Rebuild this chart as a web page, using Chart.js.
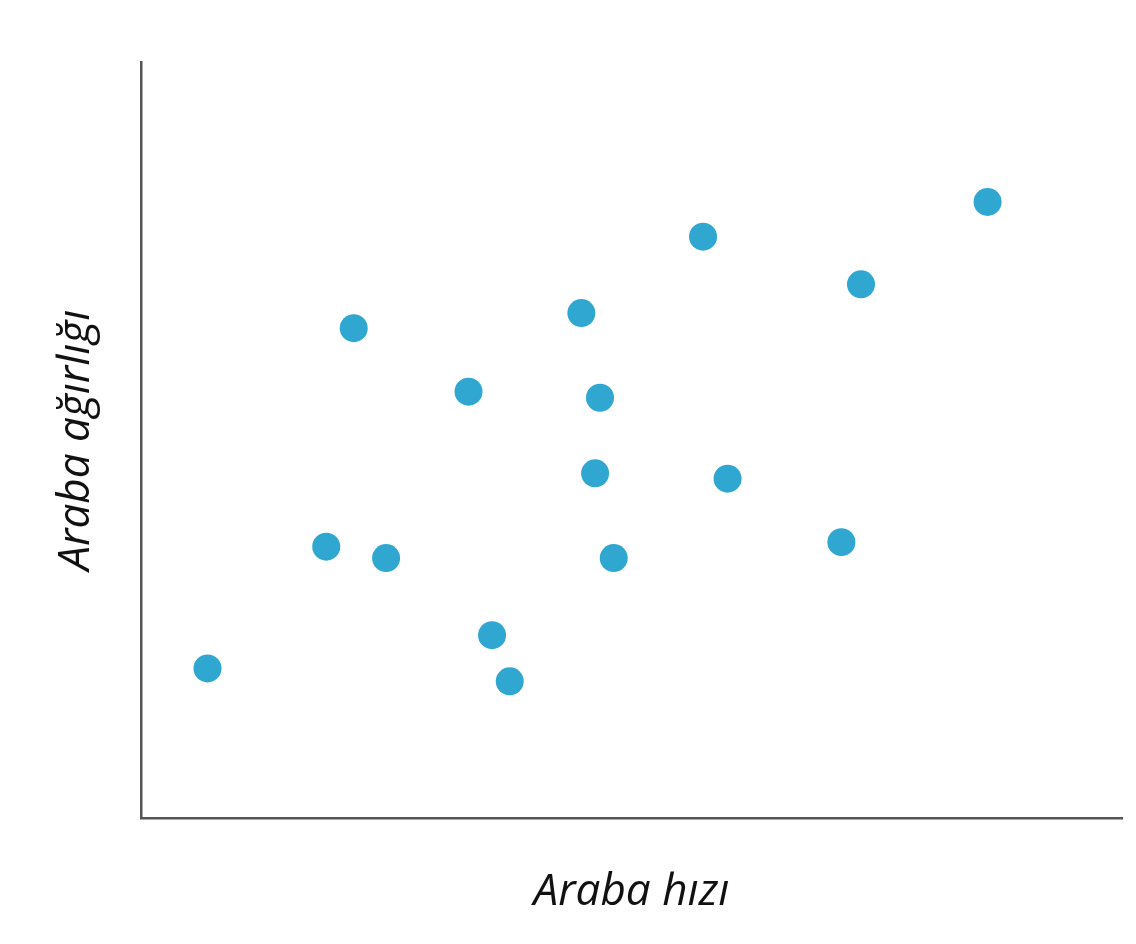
<!DOCTYPE html>
<html>
<head>
<meta charset="utf-8">
<script src="https://cdn.jsdelivr.net/npm/chart.js@4"></script>
<style>
  html, body { margin: 0; padding: 0; background: #fff; }
  #wrap { width: 1136px; height: 944px; }
</style>
</head>
<body>
<div id="wrap"><canvas id="scatter" width="1136" height="944"></canvas></div>
<script>
// values (axis units 0-100, no ticks shown)
const speed  = [6.8, 18.9, 25.0, 21.7, 33.4, 35.8, 37.6, 44.9, 46.8, 46.3, 48.2, 57.3, 59.8, 71.4, 73.4, 86.3];
const weight = [19.8, 35.9, 34.4, 64.8, 56.4, 24.2, 18.1, 66.8, 55.6, 45.6, 34.4, 76.9, 44.9, 36.5, 70.6, 81.5];
const xTitle = 'Araba hızı';
const yTitle = 'Araba ağırlığı';

const points = speed.map((s, i) => ({ x: s, y: weight[i] }));
const titleFont = { family: '"Open Sans", "Noto Sans", sans-serif', size: 44, style: 'italic' };

new Chart(document.getElementById('scatter'), {
    type: 'scatter',
    data: {
        datasets: [{
            data: points,
            backgroundColor: '#2fa7d1',
            borderWidth: 0,
            pointRadius: 14,
            pointHoverRadius: 14
        }]
    },
    options: {
        responsive: false,
        animation: false,
        layout: { padding: { left: 50, right: 10, top: 62, bottom: 25 } },
        plugins: { legend: { display: false }, tooltip: { enabled: false } },
        scales: {
            x: {
                min: 0, max: 100,
                ticks: { display: false },
                grid: { display: false },
                border: { color: '#555', width: 2.5 },
                title: { display: true, text: xTitle, color: '#111', font: titleFont, padding: { top: 40, bottom: 0 } }
            },
            y: {
                min: 0, max: 100,
                ticks: { display: false },
                grid: { display: false },
                border: { color: '#555', width: 2.5 },
                title: { display: true, text: yTitle, color: '#111', font: titleFont, padding: { top: 0, bottom: 30 } }
            }
        }
    }
});
</script>
</body>
</html>
